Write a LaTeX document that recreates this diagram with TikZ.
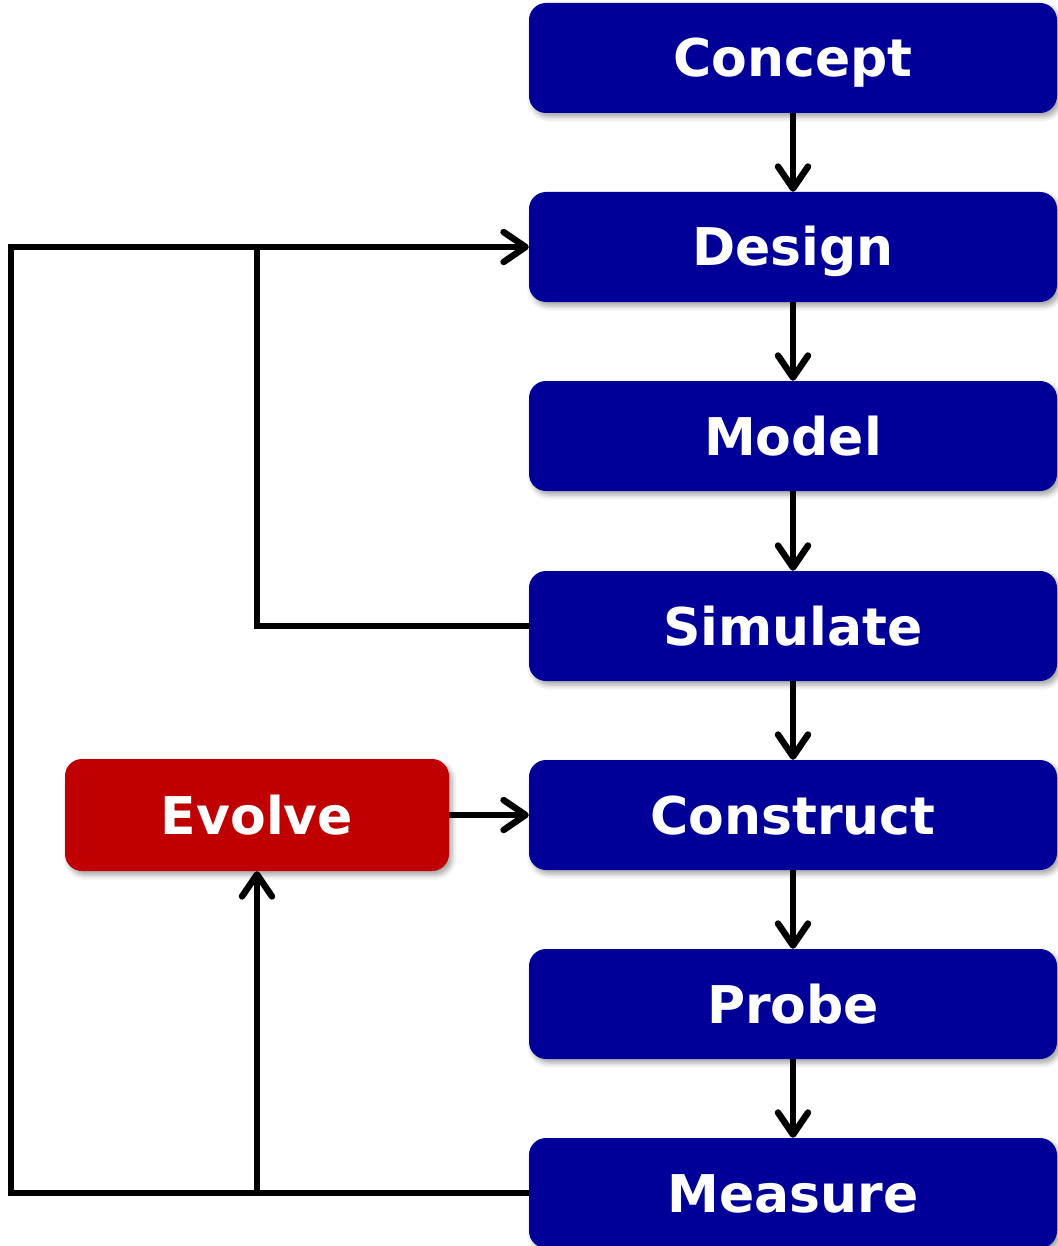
\documentclass[tikz,border=0pt]{standalone}
\usepackage{fontspec}
\setmainfont{DejaVu Sans}
\usetikzlibrary{arrows.meta,shadows.blur}
\definecolor{boxblue}{RGB}{0,0,153}
\definecolor{boxred}{RGB}{192,0,0}
\begin{document}
\begin{tikzpicture}[x=1pt,y=-1pt,
  stage/.style={rectangle, rounded corners=17pt, fill=boxblue, text=white,
    font=\fontsize{52}{60}\selectfont\bfseries, minimum width=528pt,
    minimum height=110pt, inner sep=0pt, text height=38pt, text depth=0pt,
    blur shadow={shadow xshift=3pt, shadow yshift=-4pt, shadow opacity=35, shadow blur radius=5pt}},
  redstage/.style={stage, fill=boxred, minimum width=384pt, minimum height=112pt},
  plain/.style={line width=6.5pt, draw=black},
  conn/.style={plain, -{Straight Barb[length=22pt,width=30pt,line cap=round,line join=round]}}]
\useasboundingbox (0,0) rectangle (1057,1246);
\node[stage] (concept) at (793,58) {Concept};
\node[stage] (design) at (793,247) {Design};
\node[stage] (model) at (793,436) {Model};
\node[stage] (simulate) at (793,626) {Simulate};
\node[stage] (construct) at (793,815) {Construct};
\node[stage] (probe) at (793,1004) {Probe};
\node[stage] (measure) at (793,1193) {Measure};
\node[redstage] (evolve) at (257,815) {Evolve};
\coordinate (left) at (11,247);
\draw[conn] (concept) -- (design);
\draw[conn] (design) -- (model);
\draw[conn] (model) -- (simulate);
\draw[conn] (simulate) -- (construct);
\draw[conn] (construct) -- (probe);
\draw[conn] (probe) -- (measure);
\draw[conn] (evolve) -- (construct);
\draw[plain] (simulate.west) -| (design.west -| evolve.south);
\draw[conn] (measure.west) -| (left) -- (design.west);
\draw[conn] (measure.west -| evolve.south) -- (evolve.south);
\end{tikzpicture}
\end{document}
